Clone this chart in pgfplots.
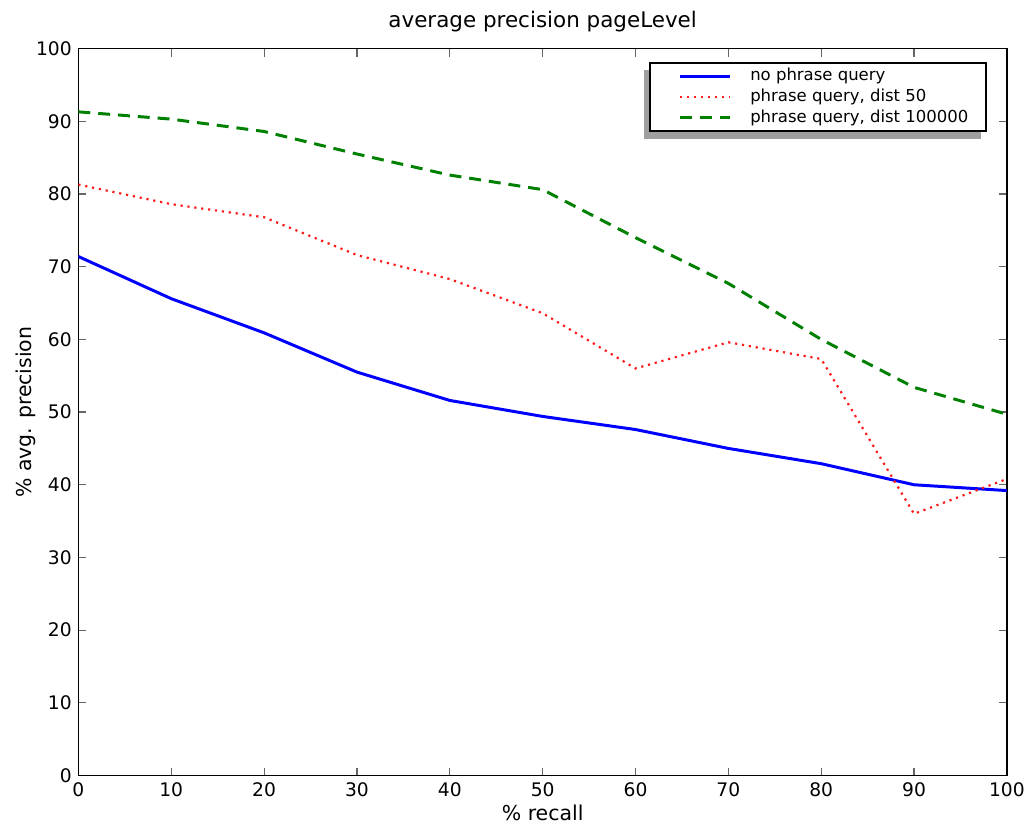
\documentclass[border=0pt]{standalone}
\usepackage{pgfplots}
\pgfplotsset{compat=1.18}
\usepackage{fontspec}
\setmainfont{DejaVu Sans}
\pgfdeclarelayer{background}
\pgfsetlayers{background,main}
\begin{document}
\fontsize{9.5}{11}\selectfont
\begin{tikzpicture}
\begin{axis}[
  width=467.5pt, height=366pt,
  scale only axis,
  xmin=0, xmax=100, ymin=0, ymax=100,
  xtick={0,10,...,100}, ytick={0,10,...,100},
  tick align=inside,
  major tick length=4pt,
  tick style={gray!80!black, line width=0.6pt},
  axis line style={black, line width=0.8pt},
  /pgf/number format/assume math mode=true,
  tick label style={font=\fontsize{9.4}{10}\selectfont},
  label style={font=\fontsize{10.3}{12}\selectfont},
  xlabel={\% recall},
  ylabel={\% avg. precision},
  xlabel style={yshift=2pt},
  ylabel style={yshift=-6.5pt},
  title={average precision pageLevel},
  title style={font=\fontsize{10.8}{13}\selectfont, yshift=-1pt},
  legend cell align=left,
  legend style={
    name=leg,
    at={(0.9786,0.981)}, anchor=north east,
    draw=black, line width=0.8pt, fill=white,
    font=\fontsize{8.3}{9}\selectfont,
    inner xsep=9pt, inner ysep=2.4pt,
    nodes={inner sep=0pt, text height=6.5pt, text depth=1.8pt},
    row sep=2.2pt,
    column sep=9.5pt,
  },
  legend image code/.code={\path (-5.5pt,0pt); \draw[#1] (0pt,0pt) -- (25pt,0pt);},
]
\addplot[blue, line width=1.5pt] coordinates {
  (0,71.4) (10,65.6) (20,60.9) (30,55.5) (40,51.6) (50,49.4)
  (60,47.6) (70,45.0) (80,42.9) (90,40.0) (100,39.2)
};
\addlegendentry{no phrase query}
\addplot[red!90!white, line width=1.1pt, dash pattern=on 1.1pt off 2.4pt] coordinates {
  (0,81.3) (10,78.6) (20,76.8) (30,71.6) (40,68.3) (50,63.6)
  (60,56.0) (70,59.6) (80,57.3) (90,36.0) (100,40.8)
};
\addlegendentry{phrase query, dist 50}
\addplot[green!50!black, line width=1.5pt, dash pattern=on 6pt off 4pt] coordinates {
  (0,91.3) (10,90.3) (20,88.6) (30,85.5) (40,82.6) (50,80.6)
  (60,74.0) (70,67.7) (80,60.0) (90,53.4) (100,49.7)
};
\addlegendentry{phrase query, dist 100000}
\end{axis}
\begin{pgfonlayer}{background}
  \fill[gray!75] ([shift={(-2.8pt,-3.8pt)}]leg.south west) rectangle ([shift={(-2.8pt,-3.8pt)}]leg.north east);
\end{pgfonlayer}
\path ([shift={(-5pt,2.5pt)}]current bounding box.north west);
\end{tikzpicture}
\end{document}
